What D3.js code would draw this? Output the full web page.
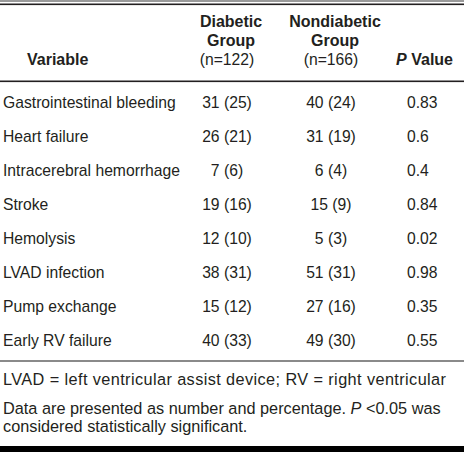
<!DOCTYPE html>
<html>
<head>
<meta charset="utf-8">
<script src="https://cdn.jsdelivr.net/npm/d3@7"></script>
<style>
  html, body { margin: 0; padding: 0; background: #fff; }
  svg { display: block; }
  text { font-family: "Liberation Sans", Arial, Helvetica, sans-serif; fill: #231f20; }
</style>
</head>
<body>
<div id="chart"></div>
<script>
// ---- data ----
const variables = [
  "Gastrointestinal bleeding", "Heart failure", "Intracerebral hemorrhage", "Stroke",
  "Hemolysis", "LVAD infection", "Pump exchange", "Early RV failure"
];
const diabeticN   = [31, 26, 7, 19, 12, 38, 15, 40];
const diabeticPct = [25, 21, 6, 16, 10, 31, 12, 33];
const nondiabeticN   = [40, 31, 6, 15, 5, 51, 27, 49];
const nondiabeticPct = [24, 19, 4, 9, 3, 31, 16, 30];
const pValues = ["0.83", "0.6", "0.4", "0.84", "0.02", "0.98", "0.35", "0.55"];
const groupHeaders = [
  { lines: ["Diabetic", "Group"], n: "(n=122)" },
  { lines: ["Nondiabetic", "Group"], n: "(n=166)" }
];
const footnote1 = "LVAD = left ventricular assist device; RV = right ventricular";

// ---- layout ----
const W = 464, H = 452;
const svg = d3.select("#chart").append("svg").attr("width", W).attr("height", H);

const fs = 15.7, fsH = 16, fsF = 16.3;
const y = d3.scaleLinear().domain([0, variables.length - 1]).range([108, 346]);
const colX = d3.scaleOrdinal().domain(["diab", "nondiab"]).range([227, 331]);
const pX = 407;

// rules
svg.append("rect").attr("x", 0).attr("y", 0).attr("width", W).attr("height", 2).attr("fill", "#9a9a9a");
svg.append("rect").attr("x", 0).attr("y", 3.5).attr("width", W).attr("height", 1.6).attr("fill", "#231f20");
svg.append("rect").attr("x", 0).attr("y", 80.5).attr("width", W).attr("height", 1.6).attr("fill", "#231f20");
svg.append("rect").attr("x", 0).attr("y", 360).attr("width", W).attr("height", 2).attr("fill", "#8a8a8a");
svg.append("rect").attr("x", 0).attr("y", 446).attr("width", W).attr("height", 6).attr("fill", "#000");

// header
const hdr = svg.append("g").attr("font-size", fsH);
hdr.append("text").attr("x", 27).attr("y", 65).attr("font-weight", "bold").text("Variable");
["diab", "nondiab"].forEach((k, i) => {
  const g = groupHeaders[i];
  const cx = colX(k);
  g.lines.forEach((l, j) => {
    hdr.append("text").attr("x", cx + 4).attr("y", 27 + j * 19)
      .attr("text-anchor", "middle").attr("font-weight", "bold").text(l);
  });
  hdr.append("text").attr("x", cx).attr("y", 65).attr("font-size", fs)
    .attr("text-anchor", "middle").text(g.n);
});
const ph = hdr.append("text").attr("x", 453).attr("y", 65).attr("text-anchor", "end").attr("font-weight", "bold");
ph.append("tspan").attr("font-style", "italic").text("P");
ph.append("tspan").text(" Value");

// body rows
const rows = svg.append("g").attr("font-size", fs)
  .selectAll("g").data(variables).join("g")
  .attr("transform", (d, i) => `translate(0,${y(i)})`);
rows.append("text").attr("x", 3).text(d => d);
rows.append("text").attr("x", colX("diab")).attr("text-anchor", "middle")
  .text((d, i) => `${diabeticN[i]} (${diabeticPct[i]})`);
rows.append("text").attr("x", colX("nondiab")).attr("text-anchor", "middle")
  .text((d, i) => `${nondiabeticN[i]} (${nondiabeticPct[i]})`);
rows.append("text").attr("x", pX).text((d, i) => pValues[i]);

// footnotes
const fn = svg.append("g").attr("font-size", fsF);
fn.append("text").attr("x", 3).attr("y", 385)
  .attr("textLength", 443).attr("lengthAdjust", "spacing").text(footnote1);
const f2 = fn.append("text").attr("x", 3).attr("y", 414);
f2.append("tspan").text("Data are presented as number and percentage. ");
f2.append("tspan").attr("font-style", "italic").text("P");
f2.append("tspan").text(" <0.05 was");
fn.append("text").attr("x", 3).attr("y", 432).text("considered statistically significant.");
</script>
</body>
</html>
